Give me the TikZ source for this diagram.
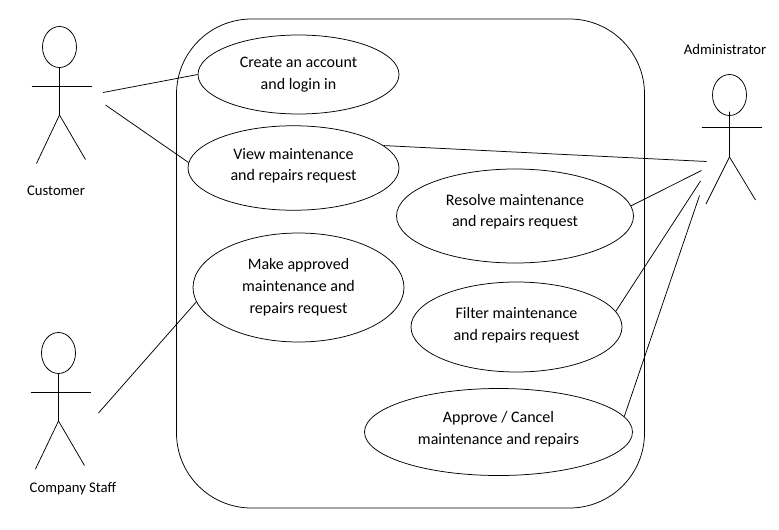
\documentclass[tikz,border=0pt]{standalone}
\usepackage{fontspec}
\setmainfont{Carlito}
\usetikzlibrary{shapes.geometric}
\tikzset{
  usecase/.style={ellipse, draw=black, fill=white, inner sep=0pt, align=center,
    font=\fontsize{16}{21.8}\selectfont},
  head/.style={ellipse, draw=black, inner sep=0pt, minimum width=34pt, minimum height=41pt},
  actorname/.style={inner sep=0pt, font=\fontsize{14.7}{16}\selectfont}
}
\begin{document}
\begin{tikzpicture}[x=1pt, y=-1pt, line width=0.75pt]
\useasboundingbox (0,0) rectangle (779,530);
\draw [rounded corners=75pt] (176.5,19) rectangle (644.5,508);
% use cases
\node[usecase, minimum width=201pt, minimum height=79pt] (create) at (298.5,74.5) {Create an account\\and login in};
\node[usecase, minimum width=211pt, minimum height=84.5pt, text depth=7pt] (view) at (293.5,168) {View maintenance\\and repairs request};
\node[usecase, minimum width=237pt, minimum height=94pt, text depth=11pt] (resolve) at (515,216) {Resolve maintenance\\and repairs request};
\node[usecase, minimum width=211pt, minimum height=109pt] (make) at (298.5,287.5) {Make approved\\maintenance and\\repairs request};
\node[usecase, minimum width=211pt, minimum height=90pt, text depth=6pt] (filter) at (516.5,327) {Filter maintenance\\and repairs request};
\node[usecase, minimum width=268pt, minimum height=87pt, text depth=8pt] (approve) at (498.5,432) {Approve / Cancel\\maintenance and repairs};
% customer
\node[head] (custhead) at (59.5,47) {};
\coordinate (custcross) at (59.5,115);
\draw (custhead.south)--(custcross)--(36.5,163.5);
\draw (custcross)--(85.5,159.5);
\draw (31.5,86.3)--(91.5,86.3);
\node[actorname] (custname) at (56,190.5) {Customer};
% company staff
\node[head] (staffhead) at (58.5,353) {};
\coordinate (staffcross) at (58.5,421);
\draw (staffhead.south)--(staffcross)--(35.5,469);
\draw (staffcross)--(84.5,465.5);
\draw (30.5,392.3)--(90.5,392.3);
\node[actorname] (staffname) at (73,489) {Company Staff};
% administrator
\node[head] (adminhead) at (729.5,95) {};
\coordinate (admincross) at (729.5,157);
\draw (729.5,111.7)--(admincross)--(706,204);
\draw (admincross)--(755.5,200);
\draw (701.5,127.3)--(761.5,127.3);
\node[actorname] (adminname) at (725,49.5) {Administrator};
% free ends of the associations
\coordinate (custa) at (103,92.5);
\coordinate (custb) at (105.5,105);
\coordinate (staffa) at (98.5,413);
\coordinate (admina) at (706.5,161.5);
\coordinate (adminb) at (701.5,170.5);
\coordinate (adminc) at (700.5,181);
\coordinate (admind) at (699.5,195.5);
\draw (custa)--(create.180);
\draw (custb)--(view.177);
\draw (staffa)--(make.188);
\draw (admina)--(view.14);
\draw (adminb)--(resolve.5);
\draw (adminc)--(filter.9.4);
\draw (admind)--(approve.7.4);
\end{tikzpicture}
\end{document}
